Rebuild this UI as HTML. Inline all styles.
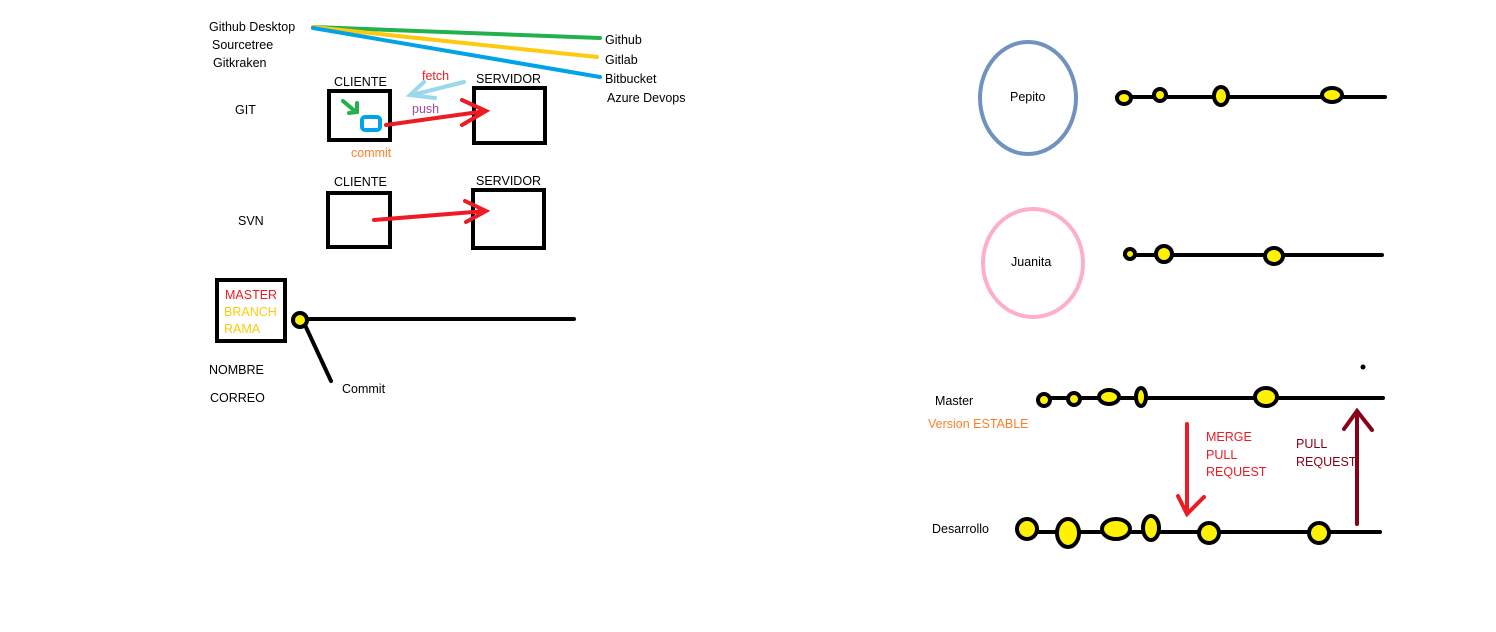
<!DOCTYPE html>
<html><head><meta charset="utf-8"><style>
html,body{margin:0;padding:0;background:#fff;}
svg{display:block;}
text{font-family:"Liberation Sans",sans-serif;font-size:12.5px;}
</style></head><body>
<svg width="1496" height="632" viewBox="0 0 1496 632" xmlns="http://www.w3.org/2000/svg">
<g stroke-linecap="round" fill="none">
<line x1="313" y1="27" x2="600" y2="38" stroke="#22b14c" stroke-width="4"/>
<line x1="313" y1="27" x2="597" y2="57" stroke="#ffc90e" stroke-width="4"/>
<line x1="313" y1="28" x2="600" y2="77" stroke="#00a2e8" stroke-width="4"/>
<rect x="329" y="91" width="61" height="49" stroke="#000" stroke-width="4"/>
<rect x="474" y="88" width="71" height="55" stroke="#000" stroke-width="4"/>
<path d="M343 101 L356 112 M349 113 L357 112 L357 103" stroke="#22b14c" stroke-width="4"/>
<rect x="362" y="117" width="18" height="13" rx="3" stroke="#00a2e8" stroke-width="4"/>
<path d="M464 82 L412 95 M424 82 L410 95 L435 98" stroke="#99d9ea" stroke-width="4"/>
<path d="M386 125 L486 111 M462 100 L486 111 L462 125" stroke="#ed1c24" stroke-width="4"/>
<rect x="328" y="193" width="62" height="54" stroke="#000" stroke-width="4"/>
<rect x="473" y="190" width="71" height="58" stroke="#000" stroke-width="4"/>
<path d="M374 220 L486 211 M465 201 L486 211 L466 222" stroke="#ed1c24" stroke-width="4"/>
<rect x="217" y="280" width="68" height="61" stroke="#000" stroke-width="4"/>
<line x1="300" y1="319" x2="574" y2="319" stroke="#000" stroke-width="4"/>
<line x1="305" y1="325" x2="331" y2="381" stroke="#000" stroke-width="4"/>
<ellipse cx="1028" cy="98" rx="48" ry="56" stroke="#7092be" stroke-width="4"/>
<ellipse cx="1033" cy="263" rx="50" ry="54" stroke="#ffaec9" stroke-width="4"/>
<line x1="1117" y1="97" x2="1385" y2="97" stroke="#000" stroke-width="4"/>
<line x1="1125" y1="255" x2="1382" y2="255" stroke="#000" stroke-width="4"/>
<line x1="1040" y1="398" x2="1383" y2="398" stroke="#000" stroke-width="4"/>
<line x1="1025" y1="532" x2="1380" y2="532" stroke="#000" stroke-width="4"/>
<path d="M1187 424 L1187 514 M1178 496 L1187 514 L1204 497" stroke="#ed1c24" stroke-width="4"/>
<path d="M1357 524 L1357 411 M1344 429 L1357 411 L1372 430" stroke="#880015" stroke-width="4"/>
</g>
<g fill="#fff200" stroke="#000" stroke-width="4">
<circle cx="300" cy="320" r="7"/>
<ellipse cx="1124" cy="98" rx="7" ry="6"/>
<ellipse cx="1160" cy="95" rx="6" ry="6"/>
<ellipse cx="1221" cy="96" rx="7" ry="9"/>
<ellipse cx="1332" cy="95" rx="10" ry="7"/>
<ellipse cx="1130" cy="254" rx="5" ry="5"/>
<ellipse cx="1164" cy="254" rx="8" ry="8"/>
<ellipse cx="1274" cy="256" rx="9" ry="8"/>
<ellipse cx="1044" cy="400" rx="6" ry="6"/>
<ellipse cx="1074" cy="399" rx="6" ry="6"/>
<ellipse cx="1109" cy="397" rx="10" ry="7"/>
<ellipse cx="1141" cy="397" rx="5" ry="9"/>
<ellipse cx="1266" cy="397" rx="11" ry="9"/>
<ellipse cx="1027" cy="529" rx="10" ry="10"/>
<ellipse cx="1068" cy="533" rx="11" ry="14"/>
<ellipse cx="1116" cy="529" rx="14" ry="10"/>
<ellipse cx="1151" cy="528" rx="8" ry="12"/>
<ellipse cx="1209" cy="533" rx="10" ry="10"/>
<ellipse cx="1319" cy="533" rx="10" ry="10"/>
</g>
<circle cx="1363" cy="367" r="2.5" fill="#000"/>
<g fill="#000">
<text x="209" y="31">Github Desktop</text>
<text x="212" y="49">Sourcetree</text>
<text x="213" y="67">Gitkraken</text>
<text x="605" y="44">Github</text>
<text x="605" y="64">Gitlab</text>
<text x="605" y="83">Bitbucket</text>
<text x="607" y="102">Azure Devops</text>
<text x="334" y="86">CLIENTE</text>
<text x="476" y="83">SERVIDOR</text>
<text x="235" y="114">GIT</text>
<text x="334" y="186">CLIENTE</text>
<text x="476" y="185">SERVIDOR</text>
<text x="238" y="225">SVN</text>
<text x="209" y="374">NOMBRE</text>
<text x="210" y="402">CORREO</text>
<text x="342" y="393">Commit</text>
<text x="1010" y="101">Pepito</text>
<text x="1011" y="266">Juanita</text>
<text x="935" y="405">Master</text>
<text x="932" y="533">Desarrollo</text>
</g>
<text x="422" y="80" fill="#ed1c24">fetch</text>
<text x="412" y="113" fill="#a349a4">push</text>
<text x="351" y="157" fill="#ff7f27">commit</text>
<text x="225" y="299" fill="#ed1c24">MASTER</text>
<text x="224" y="316" fill="#ffc90e">BRANCH</text>
<text x="224" y="333" fill="#ffc90e">RAMA</text>
<text x="928" y="428" fill="#ff7f27">Version ESTABLE</text>
<text x="1206" y="441" fill="#ed1c24">MERGE</text>
<text x="1206" y="459" fill="#ed1c24">PULL</text>
<text x="1206" y="476" fill="#ed1c24">REQUEST</text>
<text x="1296" y="448" fill="#880015">PULL</text>
<text x="1296" y="466" fill="#880015">REQUEST</text>
</svg>
</body></html>
